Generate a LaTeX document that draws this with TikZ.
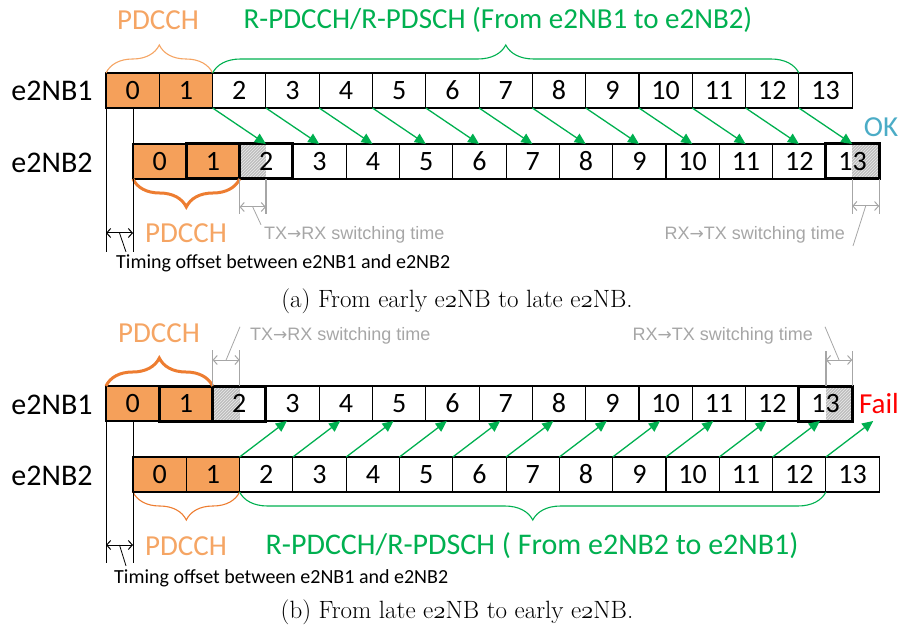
\documentclass[tikz,border=0pt]{standalone}
\usepackage{fontspec}
\newfontfamily\calibri{Carlito}
\newfontfamily\arialfont{Liberation Sans}
\newfontfamily\arrowfont{DejaVu Sans}
\usepackage{tikz}
\usetikzlibrary{arrows.meta,calc,patterns,backgrounds,decorations.pathreplacing}

\definecolor{pdcchFill}{RGB}{245,160,90}
\definecolor{pdcchText}{RGB}{245,165,100}
\definecolor{braceOrange}{RGB}{237,125,49}
\definecolor{dataGreen}{RGB}{0,176,80}
\definecolor{okBlue}{RGB}{75,172,198}
\definecolor{swGray}{RGB}{166,166,166}
\definecolor{hatchGray}{RGB}{190,190,190}

% old style two for the captions, and the long arrow of the switching notes
\newcommand{\osf}{{\usefont{OML}{cmm}{m}{it}2}}
\newcommand{\rarr}{{\arrowfont\fontsize{17}{17}\selectfont →}}

\begin{document}
\begin{tikzpicture}[x=1pt,y=-1pt,
  cell/.style={draw,line width=1.1pt,anchor=north west,inner sep=0pt,outer sep=0pt,
    minimum width=53.3pt,minimum height=35pt,font=\calibri\fontsize{28}{28}\selectfont},
  ctrlcell/.style={cell,fill=pdcchFill},
  boldframe/.style={line width=3pt},
  rowlabel/.style={font=\calibri\fontsize{30}{30}\selectfont},
  title/.style={font=\calibri\fontsize{29}{29}\selectfont},
  note/.style={font=\calibri\fontsize{20}{20}\selectfont,inner sep=0pt},
  swnote/.style={font=\arialfont\fontsize{18}{18}\selectfont,text=swGray,inner sep=0pt},
  caption/.style={font=\fontsize{25}{25}\selectfont,inner sep=0pt},
  datalink/.style={draw=dataGreen,line width=1.3pt,-{Triangle[length=11pt,width=10pt]}},
  gap/.style={line width=1pt,{Straight Barb[length=4pt,width=9pt]}-{Straight Barb[length=4pt,width=9pt]}},
  swline/.style={draw=swGray,line width=1.2pt},
  brace/.style={decorate,decoration={brace,amplitude=28pt}},
  ubrace/.style={decorate,decoration={brace,amplitude=28pt,mirror}},
  hatch/.style={fill=hatchGray},
  hatchlines/.style={pattern=north east lines,pattern color=white!70!hatchGray}]
\useasboundingbox (0,0) rectangle (904,628);

% ---------- (a) early e2NB -> late e2NB ----------
\node[rowlabel] (la1) at (52,91) {e2NB1};
\node[rowlabel] (la2) at (52,163) {e2NB2};
\foreach \k in {0,1} {
  \node[ctrlcell] (a1-\k) at ({106+53.3*\k},73) {\k};
  \node[ctrlcell] (a2-\k) at ({133+53.3*\k},144) {\k};
}
\foreach \k in {2,...,13} {
  \node[cell] (a1-\k) at ({106+53.3*\k},73) {\k};
  \node[cell] (a2-\k) at ({133+53.3*\k},144) {\k};
}
\begin{scope}[on background layer]
  \fill[hatch] (a2-2.north west) rectangle (a1-2.south east |- a2-2.south);
  \fill[hatchlines] (a2-2.north west) rectangle (a1-2.south east |- a2-2.south);
  \fill[hatch] (a1-13.south east |- a2-13.north) rectangle (a2-13.south east);
  \fill[hatchlines] (a1-13.south east |- a2-13.north) rectangle (a2-13.south east);
\end{scope}
\foreach \c in {a2-1,a2-2,a2-13}
  \draw[boldframe] (\c.north west) rectangle (\c.south east);
\foreach \k in {2,...,13}
  \draw[datalink] (a1-\k.south west) -- (a1-\k.south east |- a2-\k.north);

\draw[brace,draw=pdcchText,line width=1.1pt] (a1-0.north west) -- (a1-1.north east);
\draw[brace,draw=dataGreen,line width=1.1pt] (a1-2.north west) -- (a1-12.north east);
\draw[ubrace,draw=braceOrange,line width=3pt] (a2-0.south west) -- (a2-1.south east);
\node[title,text=pdcchText] (pa-top) at (158,20) {PDCCH};
\node[title,text=dataGreen] (ga-top) at (498,20) {R-PDCCH/R-PDSCH (From e2NB1 to e2NB2)};
\node[title,text=pdcchText] (pa-bot) at (186,233) {PDCCH};
\node[title,text=okBlue] (ok) at (881,127) {OK};

% timing offset
\coordinate (ofa1) at (106,252);
\coordinate (ofa2) at (133,252);
\draw[line width=1pt] (a1-0.south west) -- (ofa1);
\draw[line width=1pt] (a2-0.north west |- a1-0.south) -- (a2-0.north west);
\draw[line width=1pt] (a2-0.south west) -- (ofa2);
\coordinate (gpa1) at (106,233);
\coordinate (gpa2) at (133,233);
\draw[gap] (gpa1) -- (gpa2);
\node[note,anchor=base west] (tofs-a) at (116,269) {Timing offset between e2NB1 and e2NB2};
\draw[line width=0.8pt] ($(gpa1)!.5!(gpa2)$) -- ([xshift=10pt,yshift=3pt]tofs-a.north west);

% switching times
\coordinate (swa1) at (a2-2.south west);
\coordinate (swa2) at (a1-2.south east |- a2-2.south);
\draw[swline] (swa1) -- ++(0,35);
\draw[swline] (swa2) -- ++(0,35);
\draw[gap,draw=swGray] ($(swa1)+(0,28)$) -- ($(swa2)+(0,28)$);
\node[swnote,anchor=base west] (swa-txt) at (264,240) {TX\rarr RX switching time};
\draw[swline,line width=0.8pt] ($(swa1)!.5!(swa2)+(0,28)$) -- ([xshift=-3pt,yshift=2pt]swa-txt.north west);
\coordinate (swa3) at (a1-13.south east |- a2-13.south);
\coordinate (swa4) at (a2-13.south east);
\draw[swline] (swa3) -- ++(0,35);
\draw[swline] (swa4) -- ++(0,35);
\draw[gap,draw=swGray] ($(swa3)+(0,27)$) -- ($(swa4)+(0,27)$);
\node[swnote,anchor=base east] (swb-txt) at (845,240) {RX\rarr TX switching time};
\draw[swline,line width=0.8pt] ($(swa3)!.5!(swa4)+(0,27)$) -- ([xshift=8pt,yshift=-2pt]swb-txt.south east);

\node[caption,anchor=base] (cap-a) at (457,307) {(a) From early e\osf NB to late e\osf NB.};

% ---------- (b) late e2NB -> early e2NB ----------
\node[rowlabel] (lb1) at (52,405) {e2NB1};
\node[rowlabel] (lb2) at (52,476) {e2NB2};
\foreach \k in {0,1} {
  \node[ctrlcell] (b1-\k) at ({106+53.3*\k},386) {\k};
  \node[ctrlcell] (b2-\k) at ({133+53.3*\k},457) {\k};
}
\foreach \k in {2,...,13} {
  \node[cell] (b1-\k) at ({106+53.3*\k},386) {\k};
  \node[cell] (b2-\k) at ({133+53.3*\k},457) {\k};
}
\begin{scope}[on background layer]
  \fill[hatch] (b1-2.north west) rectangle (b2-2.north west |- b1-2.south);
  \fill[hatchlines] (b1-2.north west) rectangle (b2-2.north west |- b1-2.south);
  \fill[hatch] (b2-13.north west |- b1-13.north) rectangle (b1-13.south east);
  \fill[hatchlines] (b2-13.north west |- b1-13.north) rectangle (b1-13.south east);
\end{scope}
\foreach \c in {b1-1,b1-2,b1-13}
  \draw[boldframe] (\c.north west) rectangle (\c.south east);
\foreach \k in {2,...,13}
  \draw[datalink] (b2-\k.north west) -- ($(b2-\k.north east |- b1-\k.south)+(-6,0)$);

\draw[brace,draw=braceOrange,line width=3pt] (b1-0.north west) -- (b1-1.north east);
\draw[ubrace,draw=braceOrange,line width=1.1pt] (b2-0.south west) -- (b2-1.south east);
\draw[ubrace,draw=dataGreen,line width=1.1pt] (b2-2.south west) -- (b2-12.south east);
\node[title,text=pdcchText] (pb-top) at (159,333) {PDCCH};
\node[title,text=pdcchText] (pb-bot) at (186,546) {PDCCH};
\node[title,text=dataGreen,font=\calibri\fontsize{30}{30}\selectfont] (gb-bot) at (532,546) {R-PDCCH/R-PDSCH ( From e2NB2 to e2NB1)};
\node[title,text=red] (fail) at (879,404) {Fail};

% timing offset
\coordinate (ofb1) at (106,563);
\coordinate (ofb2) at (133,563);
\draw[line width=1pt] (b1-0.south west) -- (ofb1);
\draw[line width=1pt] (b2-0.north west |- b1-0.south) -- (b2-0.north west);
\draw[line width=1pt] (b2-0.south west) -- (ofb2);
\coordinate (gpb1) at (106,545);
\coordinate (gpb2) at (133,545);
\draw[gap] (gpb1) -- (gpb2);
\node[note,anchor=base west] (tofs-b) at (114,583) {Timing offset between e2NB1 and e2NB2};
\draw[line width=0.8pt] ($(gpb1)!.5!(gpb2)$) -- ([xshift=12pt,yshift=3pt]tofs-b.north west);

% switching times
\coordinate (swb1) at (b1-2.north west);
\coordinate (swb2) at (b2-2.north west |- b1-2.north);
\draw[swline] (swb1) -- ++(0,-36);
\draw[swline] (swb2) -- ++(0,-36);
\draw[gap,draw=swGray] ($(swb1)+(0,-26)$) -- ($(swb2)+(0,-26)$);
\node[swnote,anchor=base west] (swc-txt) at (250,340) {TX\rarr RX switching time};
\draw[swline,line width=0.8pt] ($(swb1)!.5!(swb2)+(0,-26)$) -- ([xshift=-10pt]swc-txt.north west);
\coordinate (swb3) at (b2-13.north west |- b1-13.north);
\coordinate (swb4) at (b1-13.north east);
\draw[swline] (swb3) -- ++(0,-35);
\draw[swline] (swb4) -- ++(0,-35);
\draw[gap,draw=swGray] ($(swb3)+(0,-26)$) -- ($(swb4)+(0,-26)$);
\node[swnote,anchor=base east] (swd-txt) at (813,340) {RX\rarr TX switching time};
\draw[swline,line width=0.8pt] ($(swb3)!.5!(swb4)+(0,-26)$) -- ([xshift=12pt]swd-txt.north east);

\node[caption,anchor=base] (cap-b) at (457,618) {(b) From late e\osf NB to early e\osf NB.};
\end{tikzpicture}
\end{document}
